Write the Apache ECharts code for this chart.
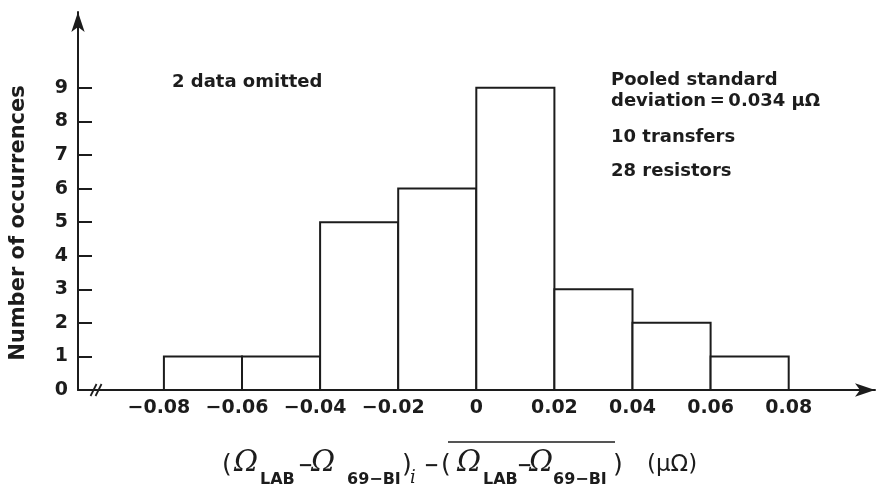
<!DOCTYPE html>
<html>
<head>
<meta charset="utf-8">
<script src="https://cdn.jsdelivr.net/npm/echarts@6/dist/echarts.min.js"></script>
<style>html,body{margin:0;padding:0;background:#fff}#c{width:876px;height:484px}</style>
</head>
<body>
<div id="c"></div>
<script>
// ---- data ----
const binStarts = [-0.08, -0.06, -0.04, -0.02, 0.00, 0.02, 0.04, 0.06];
const binEnds   = [-0.06, -0.04, -0.02, 0.00, 0.02, 0.04, 0.06, 0.08];
const counts    = [1, 1, 5, 6, 9, 3, 2, 1];
const xTickValues = [-0.08, -0.06, -0.04, -0.02, 0, 0.02, 0.04, 0.06, 0.08];
const yTickValues = [1, 2, 3, 4, 5, 6, 7, 8, 9];
const yLabelValues = [0, 1, 2, 3, 4, 5, 6, 7, 8, 9];
const axisBreakAt = [-0.097, 0];
const yAxisTitle = 'Number of occurrences';
const noteLeft = '2 data omitted';
const noteRight = ['Pooled standard', 'deviation\u2009=\u20090.034 μΩ', '10 transfers', '28 resistors'];

const INK = '#1c1c1c';
const SANS = "'DejaVu Sans', sans-serif";
const SERIF = "'DejaVu Serif', serif";

const histData = binStarts.map((s, i) => [s, binEnds[i], counts[i]]);

function fmtX(v) {
  if (Math.abs(v) < 1e-9) return '0';
  if (v < 0) return '{n|\u2212' + Math.abs(v).toFixed(2) + '}';
  return v.toFixed(2);
}

// x-axis title pieces: [text, style, x]
const titlePieces = [
  ['(', 'p', 222], ['Ω', 'o', 234], ['LAB', 's', 260], ['\u2212', 'm', 298], ['Ω', 'o', 311],
  ['69\u2212BI', 's', 347], [')', 'p', 402], ['i', 'si', 410], ['\u2212', 'm', 424], ['(', 'p', 441],
  ['Ω', 'o', 457], ['LAB', 's', 483], ['\u2212', 'm', 517], ['Ω', 'o', 529], ['69\u2212BI', 's', 553],
  [')', 'p', 613], ['(μΩ)', 'u', 647]
];
const titleStyles = {
  p: { fontFamily: SANS, fontSize: 25, fontWeight: 'normal', dy: -8 },
  m: { fontFamily: SANS, fontSize: 18, fontWeight: 'bold', dy: -7 },
  o: { fontFamily: SERIF, fontSize: 29, fontWeight: 'normal', fontStyle: 'italic', dy: -10 },
  s: { fontFamily: SANS, fontSize: 16, fontWeight: 'bold', dy: 7 },
  si: { fontFamily: SERIF, fontSize: 18, fontWeight: 'normal', fontStyle: 'italic', dy: 5 },
  u: { fontFamily: SANS, fontSize: 23, fontWeight: 'normal', dy: -8 }
};
const titleBaseline = 473;

const graphics = [];
titlePieces.forEach(([t, k, x]) => {
  const st = titleStyles[k];
  graphics.push({
    type: 'text', x: x, y: titleBaseline + st.dy,
    style: { text: t, fill: INK, fontFamily: st.fontFamily, fontSize: st.fontSize,
      fontWeight: st.fontWeight, fontStyle: st.fontStyle || 'normal',
      textAlign: 'left', textVerticalAlign: 'middle', align: 'left', verticalAlign: 'middle' }
  });
});
graphics.push({ type: 'line', shape: { x1: 448, y1: 442, x2: 615, y2: 442 }, style: { stroke: INK, lineWidth: 1.5 } });

graphics.push({
  type: 'text', x: 19, y: 223, rotation: Math.PI / 2,
  style: { text: yAxisTitle, fill: INK, fontFamily: SANS, fontSize: 21, fontWeight: 'bold',
    textAlign: 'center', textVerticalAlign: 'middle', align: 'center', verticalAlign: 'middle' }
});
graphics.push({
  type: 'text', x: 172, y: 82,
  style: { text: noteLeft, fill: INK, fontFamily: SANS, fontSize: 18, fontWeight: 'bold',
    textAlign: 'left', textVerticalAlign: 'middle', align: 'left', verticalAlign: 'middle' }
});
const rightYs = [80, 101, 137, 171];
noteRight.forEach((t, i) => {
  graphics.push({
    type: 'text', x: 611, y: rightYs[i],
    style: { text: t, fill: INK, fontFamily: SANS, fontSize: 18, fontWeight: 'bold',
      textAlign: 'left', textVerticalAlign: 'middle', align: 'left', verticalAlign: 'middle' }
  });
});

const chart = echarts.init(document.getElementById('c'), null, { renderer: 'canvas' });
chart.setOption({
  backgroundColor: '#fff',
  animation: false,
  grid: { left: 78, right: 1, top: 12, bottom: 94, containLabel: false },
  xAxis: {
    type: 'value', min: -0.102, max: 0.1021,
    axisLine: { show: true, onZero: false, symbol: ['none', 'arrow'], symbolSize: [10, 20], lineStyle: { color: INK, width: 2 } },
    axisTick: { show: false },
    splitLine: { show: false },
    axisLabel: { customValues: xTickValues, formatter: fmtX, color: INK, fontFamily: SANS,
      fontSize: 19, fontWeight: 'bold', margin: 9, showMinLabel: true, showMaxLabel: true,
      rich: { n: { color: INK, fontFamily: SANS, fontSize: 19, fontWeight: 'bold', padding: [0, 10, 0, 0] } } }
  },
  yAxis: {
    type: 'value', min: 0, max: 11.26,
    axisLine: { show: true, onZero: false, symbol: ['none', 'arrow'], symbolSize: [10, 20], lineStyle: { color: INK, width: 2 } },
    axisTick: { show: true, inside: true, length: 14, customValues: yTickValues, lineStyle: { color: INK, width: 2 } },
    splitLine: { show: false },
    axisLabel: { customValues: yLabelValues, color: INK, fontFamily: SANS, fontSize: 19, fontWeight: 'bold', margin: 10 }
  },
  series: [
    {
      type: 'custom',
      data: histData,
      renderItem: function (params, api) {
        const p0 = api.coord([api.value(0), api.value(2)]);
        const p1 = api.coord([api.value(1), 0]);
        return {
          type: 'rect',
          shape: { x: p0[0], y: p0[1], width: p1[0] - p0[0], height: p1[1] - p0[1] },
          style: { fill: '#fff', stroke: INK, lineWidth: 2 }
        };
      },
      z: 1
    },
    {
      type: 'custom',
      data: [axisBreakAt],
      renderItem: function (params, api) {
        const p = api.coord([api.value(0), api.value(1)]);
        return {
          type: 'group',
          children: [
            { type: 'line', shape: { x1: p[0] - 7, y1: p[1] + 6, x2: p[0] - 1, y2: p[1] - 6 }, style: { stroke: INK, lineWidth: 1.8 } },
            { type: 'line', shape: { x1: p[0] - 2, y1: p[1] + 6, x2: p[0] + 4, y2: p[1] - 6 }, style: { stroke: INK, lineWidth: 1.8 } }
          ]
        };
      },
      z: 5
    }
  ],
  graphic: graphics
});
</script>
</body>
</html>
